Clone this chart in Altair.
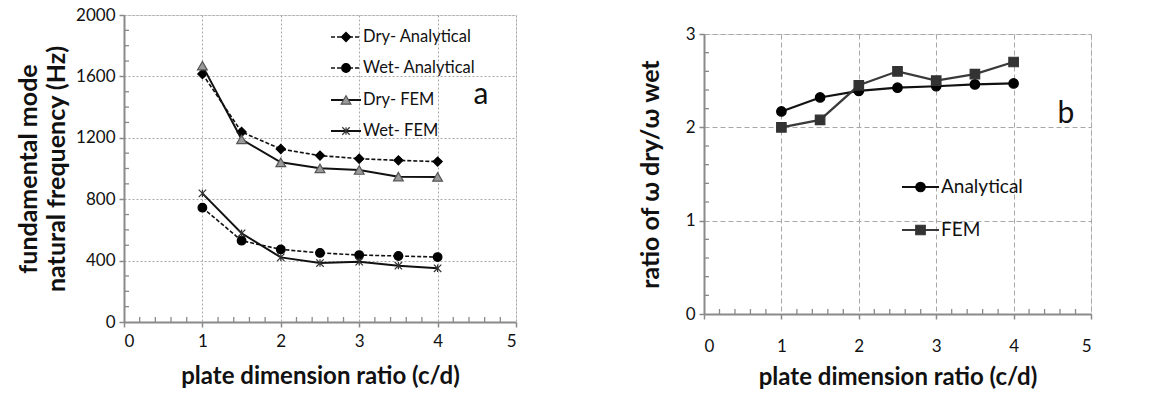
import altair as alt
import pandas as pd

# ---------------- data ----------------
x_vals = [1, 1.5, 2, 2.5, 3, 3.5, 4]
dry_analytical = [1616, 1238, 1127, 1084, 1064, 1053, 1045]
wet_analytical = [745, 530, 473, 450, 436, 430, 423]
dry_fem = [1670, 1190, 1040, 1001, 990, 947, 945]
wet_fem = [838, 578, 421, 384, 393, 367, 350]

ratio_analytical = [2.17, 2.32, 2.39, 2.425, 2.44, 2.46, 2.47]
ratio_fem = [2.00, 2.08, 2.45, 2.60, 2.50, 2.57, 2.70]

series_a = ["Dry- Analytical", "Wet- Analytical", "Dry- FEM", "Wet- FEM"]
series_b = ["Analytical", "FEM"]

x_major = [0, 1, 2, 3, 4, 5]
x_minor = [0.2, 0.4, 0.6, 0.8, 1.2, 1.4, 1.6, 1.8, 2.2, 2.4, 2.6, 2.8,
           3.2, 3.4, 3.6, 3.8, 4.2, 4.4, 4.6, 4.8]
ya_major = [0, 400, 800, 1200, 1600, 2000]
ya_minor = [100, 200, 300, 500, 600, 700, 900, 1000, 1100, 1300, 1400, 1500,
            1700, 1800, 1900]
yb_major = [0, 1, 2, 3]
yb_minor = [0.2, 0.4, 0.6, 0.8, 1.2, 1.4, 1.6, 1.8, 2.2, 2.4, 2.6, 2.8]

FONT = "Lato"
AXIS_GRAY = "#8a8a8a"
W1, H1 = 392, 307
W2, H2 = 387, 280

ASTERISK = "M-1,-1L1,1M-1,1L1,-1M0,-1L0,1"


def xenc(field, grid_dash, label_pad, title_pad):
    return alt.X(
        f"{field}:Q",
        scale=alt.Scale(domain=[0, 5], nice=False, zero=False),
        axis=alt.Axis(values=x_major, format="d", grid=True, gridDash=grid_dash,
                      gridColor="#a8a8a8", gridWidth=1, domainColor=AXIS_GRAY,
                      domainWidth=2, tickColor=AXIS_GRAY, tickSize=5, tickWidth=1.5,
                      labelFont=FONT, labelFontSize=17, labelColor="#111",
                      labelPadding=label_pad, title="plate dimension ratio (c/d)",
                      titleFont=FONT, titleFontSize=24, titleFontWeight="bold",
                      titleColor="#111", titlePadding=title_pad),
    )


def yenc(field, domain, values, title, grid_dash, title_pad, size, line_h=28):
    return alt.Y(
        f"{field}:Q",
        scale=alt.Scale(domain=domain, nice=False, zero=False),
        axis=alt.Axis(values=values, format="d", grid=True, gridDash=grid_dash,
                      gridColor="#a8a8a8", gridWidth=1, domainColor=AXIS_GRAY,
                      domainWidth=2, tickColor=AXIS_GRAY, tickSize=5, tickWidth=1.5,
                      labelFont=FONT, labelFontSize=17, labelColor="#111",
                      labelPadding=4, title=title, titleFont=FONT,
                      titleFontSize=size, titleFontWeight="bold", titleColor="#111",
                      titlePadding=title_pad, titleLineHeight=line_h),
    )


def series_layers(xs, ys, X, Y, color, dash, width, shape, size, fill, stroke, filled=True):
    df = pd.DataFrame({"x": xs, "y": ys})
    line_kwargs = dict(color=color, strokeWidth=width)
    if dash:
        line_kwargs["strokeDash"] = dash
    line = alt.Chart(df).mark_line(**line_kwargs).encode(x=X, y=Y)
    pkw = dict(shape=shape, size=size, opacity=1, filled=filled, stroke=stroke,
               strokeWidth=1.2)
    if filled:
        pkw["fill"] = fill
    pts = alt.Chart(df).mark_point(**pkw).encode(x=X, y=Y)
    return [line, pts]


def minor_ticks(X, Y, xminor, yminor, h):
    dfx = pd.DataFrame({"x": xminor})
    dfy = pd.DataFrame({"y": yminor})
    tx = alt.Chart(dfx).mark_rule(color=AXIS_GRAY, strokeWidth=1.3).encode(
        x=X, y=alt.value(h), y2=alt.value(h - 5))
    ty = alt.Chart(dfy).mark_rule(color=AXIS_GRAY, strokeWidth=1.3).encode(
        y=Y, x=alt.value(0), x2=alt.value(5))
    return [tx, ty]


def legend_entry(label, ypix, x0, x1, color, dash, width, shape, size, fill,
                 stroke, fontsize, filled=True):
    d = pd.DataFrame({"label": [label]})
    rkw = dict(color=color, strokeWidth=width)
    if dash:
        rkw["strokeDash"] = dash
    rule = alt.Chart(d).mark_rule(**rkw).encode(
        x=alt.value(x0), x2=alt.value(x1), y=alt.value(ypix))
    pkw = dict(shape=shape, size=size, opacity=1, filled=filled, stroke=stroke,
               strokeWidth=1.2)
    if filled:
        pkw["fill"] = fill
    pt = alt.Chart(d).mark_point(**pkw).encode(
        x=alt.value((x0 + x1) / 2), y=alt.value(ypix))
    txt = alt.Chart(d).mark_text(align="left", baseline="middle", font=FONT,
                                 fontSize=fontsize, color="#111").encode(
        x=alt.value(x1 + 2), y=alt.value(ypix), text="label:N")
    return [rule, pt, txt]


# ---------------- panel a ----------------
Xa = xenc("x", [2, 2], 6, 15)
Ya = yenc("y", [0, 2000], ya_major, ["fundamental mode", "natural frequency (Hz)"],
          [2, 2], 6, 25)

spec_dry_an = ("#111", [4, 2], 1.6, "diamond", 85, "#000", "#000", True)
spec_wet_an = ("#111", [4, 2], 1.6, "circle", 75, "#000", "#000", True)
spec_dry_fem = ("#111", None, 2, "triangle-up", 95, "#9a9a9a", "#555", True)
spec_wet_fem = ("#111", None, 2, ASTERISK, 55, None, "#333", False)
leg_specs_a = [spec_dry_an, spec_wet_an, spec_dry_fem, spec_wet_fem]
values_a = [dry_analytical, wet_analytical, dry_fem, wet_fem]

layers_a = []
layers_a += minor_ticks(Xa, Ya, x_minor, ya_minor, H1)
for vals, spec in zip(values_a, leg_specs_a):
    c, dsh, w, shp, sz, fl, st, filled = spec
    layers_a += series_layers(x_vals, vals, Xa, Ya, c, dsh, w, shp, sz, fl, st,
                              filled=filled)

leg_y_a = [22, 53, 85, 116]
for lab, yy, spec in zip(series_a, leg_y_a, leg_specs_a):
    c, dsh, w, shp, sz, fl, st, filled = spec
    layers_a += legend_entry(lab, yy, 207, 237, c, dsh, w, shp, sz, fl, st, 16.5,
                             filled=filled)

layers_a.append(alt.Chart(pd.DataFrame({"t": ["a"]})).mark_text(
    font=FONT, fontSize=30, color="#111", align="center", baseline="middle").encode(
    x=alt.value(357), y=alt.value(80), text="t:N"))

panel_a = alt.layer(*layers_a).properties(width=W1, height=H1)

# ---------------- panel b ----------------
Xb = xenc("x", [5, 3], 19, 11)
Yb = yenc("y", [0, 3], yb_major, "ratio of ω dry/ω wet", [5, 3], 22, 25)

leg_specs_b = [
    ("#111", None, 2.2, "circle", 90, "#000", "#000"),
    ("#3a3a3a", None, 2.2, "square", 90, "#333", "#333"),
]
values_b = [ratio_analytical, ratio_fem]

layers_b = []
layers_b += minor_ticks(Xb, Yb, x_minor, yb_minor, H2)
for vals, spec in zip(values_b, leg_specs_b):
    c, dsh, w, shp, sz, fl, st = spec
    layers_b += series_layers(x_vals, vals, Xb, Yb, c, dsh, w, shp, sz, fl, st)

leg_y_b = [153, 196]
for lab, yy, spec in zip(series_b, leg_y_b, leg_specs_b):
    c, dsh, w, shp, sz, fl, st = spec
    layers_b += legend_entry(lab, yy, 198, 235, c, dsh, w, shp, sz, fl, st, 19)

layers_b.append(alt.Chart(pd.DataFrame({"t": ["b"]})).mark_text(
    font=FONT, fontSize=30, color="#111", align="center", baseline="middle").encode(
    x=alt.value(362), y=alt.value(80), text="t:N"))

panel_b = alt.layer(*layers_b).properties(width=W2, height=H2)

# invisible spacer that pushes panel b down
spacer = alt.Chart(pd.DataFrame({"t": [""]})).mark_rule(opacity=0).encode(
    x=alt.value(0), y=alt.value(0)
).properties(width=W2, height=9, view=alt.ViewBackground(stroke=None))

right = alt.vconcat(spacer, panel_b, spacing=0)

chart = alt.hconcat(panel_a, right, spacing=119).properties(
    padding={"left": 16, "top": 5, "right": 0, "bottom": 0}
).configure_view(stroke="#222", strokeWidth=1.6).configure(background="white")

chart.save("out.html", embed_options={"renderer": "svg", "actions": False})
